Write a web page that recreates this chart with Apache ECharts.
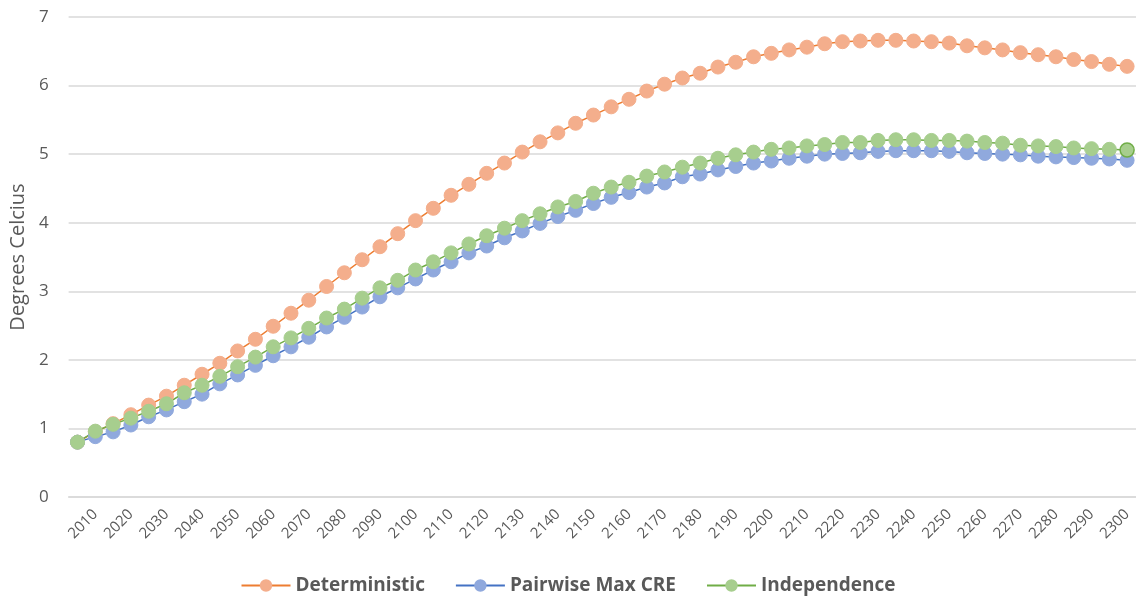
<!DOCTYPE html>
<html>
<head>
<meta charset="utf-8">
<script src="https://cdn.jsdelivr.net/npm/echarts@6/dist/echarts.min.js"></script>
<style>
html,body{margin:0;padding:0;background:#fff;}
#chart{width:1136px;height:599px;}
</style>
</head>
<body>
<div id="chart"></div>
<script>
const years = [];
for (let y = 2005; y <= 2300; y += 5) years.push(String(y));

const deterministic = [0.80,0.95,1.07,1.20,1.34,1.47,1.63,1.79,1.95,2.13,
  2.30,2.49,2.68,2.87,3.07,3.27,3.46,3.65,3.84,4.03,
  4.21,4.40,4.56,4.72,4.87,5.03,5.18,5.31,5.45,5.57,
  5.69,5.80,5.92,6.02,6.11,6.18,6.27,6.34,6.42,6.47,
  6.52,6.56,6.61,6.64,6.65,6.66,6.66,6.65,6.64,6.62,
  6.58,6.55,6.52,6.48,6.45,6.42,6.38,6.35,6.31,6.28];

const pairwise = [0.80,0.88,0.95,1.05,1.17,1.27,1.39,1.50,1.65,1.78,
  1.92,2.06,2.19,2.33,2.48,2.62,2.77,2.92,3.05,3.18,
  3.31,3.43,3.56,3.66,3.78,3.88,3.99,4.09,4.18,4.28,
  4.37,4.44,4.52,4.58,4.67,4.71,4.77,4.82,4.87,4.90,
  4.94,4.97,5.00,5.01,5.02,5.04,5.05,5.05,5.05,5.04,
  5.02,5.01,5.00,4.99,4.97,4.96,4.95,4.94,4.93,4.91];

const independence = [0.80,0.96,1.06,1.15,1.25,1.36,1.52,1.63,1.76,1.90,
  2.04,2.19,2.32,2.46,2.61,2.74,2.90,3.05,3.16,3.31,
  3.43,3.56,3.69,3.81,3.92,4.03,4.13,4.23,4.31,4.43,
  4.52,4.59,4.68,4.74,4.81,4.87,4.94,4.99,5.03,5.07,
  5.09,5.12,5.14,5.17,5.17,5.20,5.21,5.21,5.20,5.20,
  5.19,5.17,5.16,5.13,5.12,5.11,5.09,5.08,5.07,5.06];

const seriesNames = ['Deterministic', 'Pairwise Max CRE', 'Independence'];
const lineColors = ['#ED7D31', '#4472C4', '#70AD47'];
const fillColors = ['#F4AE8C', '#90A9DD', '#A7CE8E'];
const dataSets = [deterministic, pairwise, independence];

const font = 'Open Sans, Noto Sans, sans-serif';
const txt = '#595959';

const series = dataSets.map((d, k) => ({
  name: seriesNames[k],
  type: 'line',
  data: d.map((v, i) => (k === 2 && i === d.length - 1)
    ? { value: v, itemStyle: { borderColor: '#70AD47', borderWidth: 1.5 } }
    : v),
  symbol: 'circle',
  symbolSize: 14,
  showAllSymbol: true,
  lineStyle: { color: lineColors[k], width: 1.5 },
  itemStyle: { color: fillColors[k], borderColor: fillColors[k], borderWidth: 1, opacity: 1 },
  emphasis: { disabled: true },
  animation: false
}));

const chart = echarts.init(document.getElementById('chart'), null, { renderer: 'canvas' });
chart.setOption({
  backgroundColor: '#fff',
  animation: false,
  grid: { left: 68, top: 17, width: 1071, height: 480, containLabel: false },
  legend: {
    top: 571,
    left: 'center',
    itemWidth: 49,
    itemHeight: 13,
    itemGap: 30,
    textStyle: { color: txt, fontSize: 19, fontWeight: 'bold', fontFamily: font },
    data: seriesNames
  },
  xAxis: {
    type: 'category',
    data: years,
    boundaryGap: true,
    axisLine: { lineStyle: { color: '#d9d9d9', width: 1.5 } },
    axisTick: { show: false },
    axisLabel: {
      interval: (idx, val) => Number(val) % 10 === 0,
      rotate: 45,
      color: txt,
      fontSize: 15,
      fontFamily: font,
      margin: 15
    }
  },
  yAxis: {
    type: 'value',
    min: 0, max: 7, interval: 1,
    name: 'Degrees Celcius',
    nameLocation: 'middle',
    nameGap: 38,
    nameRotate: 90,
    nameTextStyle: { color: txt, fontSize: 20, fontFamily: font },
    axisLine: { show: false },
    axisTick: { show: false },
    axisLabel: { color: txt, fontSize: 17, fontFamily: font, margin: 20 },
    splitLine: { lineStyle: { color: '#d9d9d9', width: 1.5 } }
  },
  series: series
});
</script>
</body>
</html>
